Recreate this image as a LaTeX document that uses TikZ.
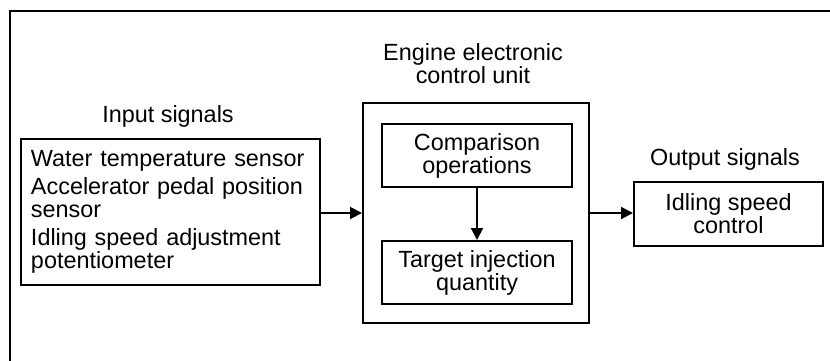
\documentclass[tikz,border=0pt]{standalone}
\usepackage{fontspec}
\setmainfont{Liberation Sans}
\usepackage{tikz}
\usetikzlibrary{arrows.meta,positioning}
\tikzset{blk/.style={rectangle,draw,line width=1pt,inner sep=0pt,font=\fontsize{11.7}{11.5}\selectfont,align=center},
         lbl/.style={font=\fontsize{11.7}{11.5}\selectfont,align=center,inner sep=0pt}}

\begin{document}
\begin{tikzpicture}[x=0.5pt,y=-0.5pt,>={Triangle[length=6pt,width=6pt]},line width=1pt]
    \useasboundingbox (0,0) rectangle (830,360);
    \clip (0,0) rectangle (830,360);
    \draw (9.5,10.5) rectangle (860,390);

    \node[lbl] (intitle) at (168,116) {Input signals};
    \node[blk,align=left,text width=139.5pt,inner xsep=5pt,minimum height=73pt] (in) at (170.5,212)
        {Water temperature sensor\\[2.5pt]
         Accelerator pedal position\\ sensor\\[2.5pt]
         Idling speed adjustment\\ potentiometer};

    \node[lbl] (ecutitle) at (473,64) {Engine electronic\\control unit};
    \node[blk,minimum width=113pt,minimum height=110pt] (ecu) at (476,213) {};
    \node[blk,minimum width=95pt,minimum height=31.5pt] (cmp) at (477,155.5) {Comparison\\operations};
    \node[blk,minimum width=95pt,minimum height=31.5pt] (tgt) at (477,272.5) {Target injection\\quantity};

    \node[lbl] (outtitle) at (725,159) {Output signals};
    \node[blk,minimum width=94.5pt,minimum height=32pt] (out) at (728.5,214) {Idling speed\\control};

    \draw [->] (in.east |- ecu) -- (ecu.west);
    \draw [->] (cmp) -- (tgt);
    \draw [->] (ecu.east) -- (ecu.east -| out.west);
\end{tikzpicture}
\end{document}
